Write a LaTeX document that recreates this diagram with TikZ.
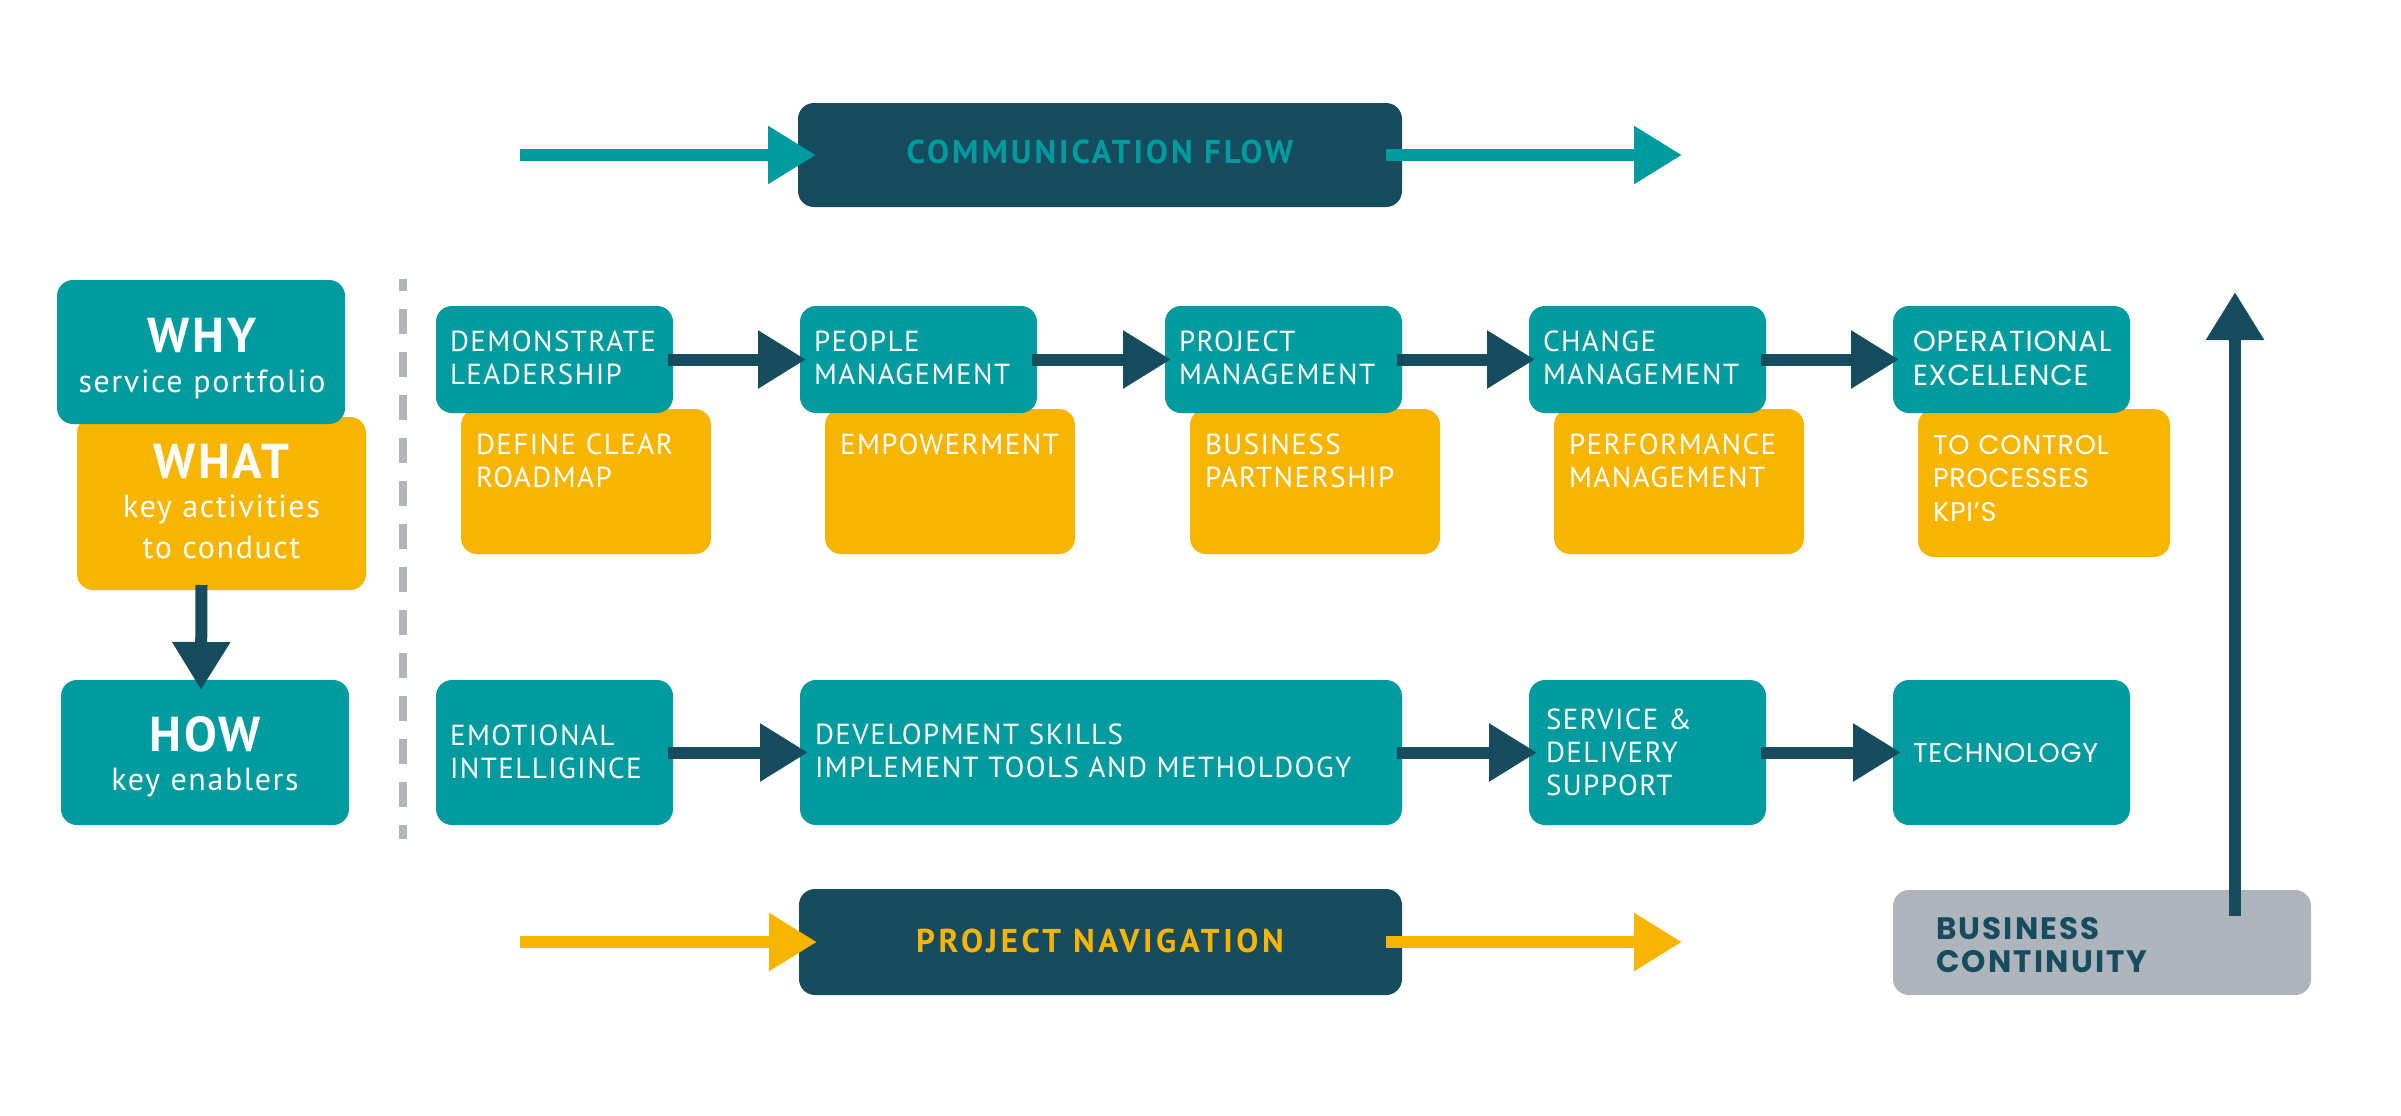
\documentclass[tikz,border=0pt]{standalone}
\usepackage{fontspec}
\setmainfont{PT Sans}[LetterSpace=5]
\newfontfamily\geo{Poppins}[LetterSpace=3]
\newfontfamily\geowide{Poppins}[LetterSpace=7]
\newfontfamily\bandfont{PT Sans}[LetterSpace=9]
\newfontfamily\navfont{PT Sans}[LetterSpace=11]
\usetikzlibrary{arrows.meta}
\definecolor{teal1}{HTML}{009B9E}
\definecolor{navy}{HTML}{164C5E}
\definecolor{gold}{HTML}{F8B500}
\definecolor{greybox}{HTML}{AEB4BB}
\definecolor{dashgrey}{HTML}{B2B6BB}
\tikzset{
  box/.style={draw=none, rounded corners=16pt, inner sep=0pt, outer sep=0pt, anchor=north west},
  tealbox/.style={box, fill=teal1},
  goldbox/.style={box, fill=gold},
  navybox/.style={box, fill=navy},
  greyb/.style={box, fill=greybox},
  txt/.style={anchor=base west, inner sep=0pt, outer sep=0pt, text=white, text width=300pt, align=left,
    font=\fontsize{29}{33.5}\selectfont},
  geotxt/.style={txt, font=\geo\fontsize{27}{34}\selectfont},
  head/.style={anchor=base, inner sep=0pt, outer sep=0pt, text=white, font=\bfseries\fontsize{49}{50}\selectfont},
  sub/.style={anchor=base, inner sep=0pt, outer sep=0pt, text=white, text width=280pt, align=center,
    font=\fontsize{32}{41}\selectfont},
  arr/.style={draw=navy, line width=12pt, -{Triangle[length=48pt,width=55pt]}},
  arrteal/.style={arr, draw=teal1},
  arrgold/.style={arr, draw=gold},
}
\begin{document}
\begin{tikzpicture}[x=1pt,y=-1pt]
\useasboundingbox (0,0) rectangle (2401,1116);

% left column
\node[goldbox, minimum width=289pt, minimum height=173pt] (what) at (77,417) {};
\node[tealbox, minimum width=288pt, minimum height=144pt] (why) at (57,280) {};
\node[tealbox, minimum width=288pt, minimum height=145pt] (how) at (61,680) {};
\node[head] (whyt) at (202,352) {WHY};
\node[sub] (whys) at (202,392) {service portfolio};
\node[head] (whatt) at (221.5,478) {WHAT};
\node[sub] (whats) at (221.5,517) {key activities\\to conduct};
\node[head] (howt) at (205,751) {HOW};
\node[sub] (hows) at (205,790) {key enablers};

% divider
\draw[dashgrey, line width=7.5pt, dash pattern=on 25pt off 18pt, dash phase=13pt] (403,279) -- (403,839);

% communication flow
\node[navybox, minimum width=604pt, minimum height=104pt] (comm) at (798,103) {};
\node[anchor=base, inner sep=0pt, text=teal1, font=\bandfont\bfseries\fontsize{33}{34}\selectfont] (commt) at (1100,163) {COMMUNICATION FLOW};
\coordinate (cs) at (520,155);
\coordinate (ce) at (1682,155);

% top row gold boxes
\node[goldbox, minimum width=250pt, minimum height=145pt] (g1) at (461,409) {};
\node[goldbox, minimum width=250pt, minimum height=145pt] (g2) at (825,409) {};
\node[goldbox, minimum width=250pt, minimum height=145pt] (g3) at (1190,409) {};
\node[goldbox, minimum width=250pt, minimum height=145pt] (g4) at (1554,409) {};
\node[goldbox, minimum width=252pt, minimum height=148pt] (g5) at (1918,409) {};

% top row teal boxes
\node[tealbox, minimum width=237pt, minimum height=107pt] (t1) at (436,306) {};
\node[tealbox, minimum width=237pt, minimum height=107pt] (t2) at (800,306) {};
\node[tealbox, minimum width=237pt, minimum height=107pt] (t3) at (1165,306) {};
\node[tealbox, minimum width=237pt, minimum height=107pt] (t4) at (1529,306) {};
\node[tealbox, minimum width=237pt, minimum height=107pt] (t5) at (1893,306) {};

\node[txt] (t1t) at (450,351) {DEMONSTRATE\\LEADERSHIP};
\node[txt] (t2t) at (814,351) {PEOPLE\\MANAGEMENT};
\node[txt] (t3t) at (1179,351) {PROJECT\\MANAGEMENT};
\node[txt] (t4t) at (1543,351) {CHANGE\\MANAGEMENT};
\node[geotxt, font=\geo\fontsize{29}{34}\selectfont] (t5t) at (1913,351) {OPERATIONAL\\EXCELLENCE};

\node[txt] (g1t) at (476,454) {DEFINE CLEAR\\ROADMAP};
\node[txt] (g2t) at (840,454) {EMPOWERMENT};
\node[txt] (g3t) at (1205,454) {BUSINESS\\PARTNERSHIP};
\node[txt] (g4t) at (1569,454) {PERFORMANCE\\MANAGEMENT};
\node[geotxt, font=\geo\fontsize{27}{33.5}\selectfont] (g5t) at (1933,454) {TO CONTROL\\PROCESSES\\KPI’S};

% bottom row
\node[tealbox, minimum width=237pt, minimum height=145pt] (b1) at (436,680) {};
\node[tealbox, minimum width=602pt, minimum height=145pt] (b2) at (800,680) {};
\node[tealbox, minimum width=237pt, minimum height=145pt] (b3) at (1529,680) {};
\node[tealbox, minimum width=237pt, minimum height=145pt] (b4) at (1893,680) {};
\node[txt] (b1t) at (450,745) {EMOTIONAL\\INTELLIGINCE};
\node[txt, text width=580pt] (b2t) at (815,744) {DEVELOPMENT SKILLS\\IMPLEMENT TOOLS AND METHOLDOGY};
\node[txt, font=\fontsize{29}{33}\selectfont] (b3t) at (1546,729) {SERVICE \&\\DELIVERY\\SUPPORT};
\node[geotxt] (b4t) at (1913,762) {TECHNOLOGY};

% project navigation
\node[navybox, minimum width=603pt, minimum height=106pt] (nav) at (799,889) {};
\node[anchor=base, inner sep=0pt, text=gold, font=\navfont\bfseries\fontsize{33}{34}\selectfont] (navt) at (1100,952) {PROJECT NAVIGATION};
\coordinate (ns) at (520,942);
\coordinate (ne) at (1682,942);

% business continuity
\node[greyb, minimum width=418pt, minimum height=105pt] (bc) at (1893,890) {};
\node[txt, text=navy, font=\geowide\bfseries\fontsize{31}{33}\selectfont] (bct) at (1936,939) {BUSINESS\\CONTINUITY};
\coordinate (vs) at (2235,916);
\coordinate (ve) at (2235,292);

% connectors
\draw[arr] ([xshift=-20pt,yshift=5pt]what.south) -- ([xshift=-4pt,yshift=-10pt]how.north);
\draw[arrteal] (cs) -- ([xshift=18pt]comm.west);
\draw[arrteal] ([xshift=-16pt]comm.east) -- (ce);
\draw[arrgold] (ns) -- ([xshift=18pt]nav.west);
\draw[arrgold] ([xshift=-16pt]nav.east) -- (ne);
\draw[arr] ([xshift=-5pt]t1.east) -- ([xshift=6pt]t2.west);
\draw[arr] ([xshift=-5pt]t2.east) -- ([xshift=6pt]t3.west);
\draw[arr] ([xshift=-5pt]t3.east) -- ([xshift=6pt]t4.west);
\draw[arr] ([xshift=-5pt]t4.east) -- ([xshift=6pt]t5.west);
\draw[arr] ([xshift=-5pt]b1.east) -- ([xshift=8pt]b2.west);
\draw[arr] ([xshift=-5pt]b2.east) -- ([xshift=8pt]b3.west);
\draw[arr] ([xshift=-5pt]b3.east) -- ([xshift=8pt]b4.west);
\draw[arr] (vs) -- (ve);
\end{tikzpicture}
\end{document}
